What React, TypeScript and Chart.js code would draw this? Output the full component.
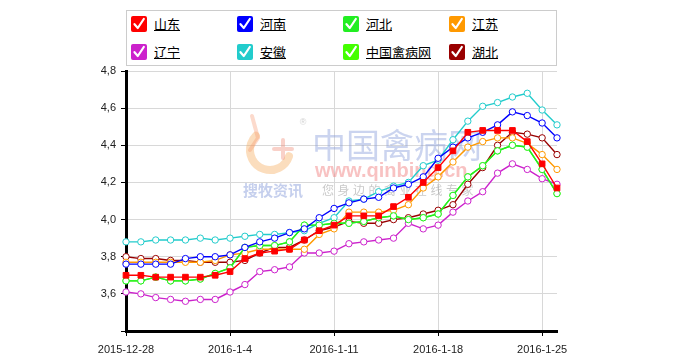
import React, { useEffect, useRef } from 'react';
import { Chart, registerables } from 'chart.js';

Chart.register(...registerables);

const dates = [
  '2015-12-28', '2015-12-29', '2015-12-30', '2015-12-31', '2016-1-1', '2016-1-2', '2016-1-3',
  '2016-1-4', '2016-1-5', '2016-1-6', '2016-1-7', '2016-1-8', '2016-1-9', '2016-1-10',
  '2016-1-11', '2016-1-12', '2016-1-13', '2016-1-14', '2016-1-15', '2016-1-16', '2016-1-17',
  '2016-1-18', '2016-1-19', '2016-1-20', '2016-1-21', '2016-1-22', '2016-1-23', '2016-1-24',
  '2016-1-25', '2016-1-26',
];
const xTickLabels = ['2015-12-28', '2016-1-4', '2016-1-11', '2016-1-18', '2016-1-25'];
const yTickValues = [3.6, 3.8, 4.0, 4.2, 4.4, 4.6, 4.8];

const shandong = [3.70, 3.70, 3.69, 3.69, 3.69, 3.69, 3.70, 3.72, 3.79, 3.82, 3.83, 3.84, 3.89, 3.94, 3.97, 4.02, 4.02, 4.02, 4.07, 4.12, 4.20, 4.28, 4.37, 4.47, 4.48, 4.48, 4.48, 4.42, 4.30, 4.17];
const henan = [3.76, 3.76, 3.76, 3.76, 3.79, 3.80, 3.80, 3.81, 3.85, 3.88, 3.90, 3.93, 3.95, 4.01, 4.06, 4.09, 4.11, 4.12, 4.17, 4.19, 4.23, 4.33, 4.39, 4.44, 4.47, 4.51, 4.58, 4.56, 4.52, 4.44];
const hebei = [3.67, 3.67, 3.69, 3.67, 3.67, 3.68, 3.71, 3.74, 3.85, 3.86, 3.86, 3.88, 3.97, 3.97, 3.98, 3.98, 3.99, 4.01, 4.02, 4.00, 4.01, 4.03, 4.13, 4.23, 4.29, 4.37, 4.40, 4.39, 4.27, 4.14];
const jiangsu = [3.77, 3.77, 3.77, 3.77, 3.77, 3.77, 3.78, 3.81, 3.82, 3.84, 3.84, 3.84, 3.84, 3.92, 3.95, 4.04, 4.04, 4.04, 4.05, 4.08, 4.17, 4.23, 4.31, 4.39, 4.42, 4.44, 4.44, 4.41, 4.35, 4.27];
const liaoning = [3.61, 3.60, 3.58, 3.57, 3.56, 3.57, 3.57, 3.61, 3.65, 3.72, 3.73, 3.745, 3.82, 3.82, 3.83, 3.87, 3.88, 3.89, 3.90, 3.98, 3.95, 3.97, 4.04, 4.10, 4.15, 4.25, 4.30, 4.27, 4.22, 4.19];
const anhui = [3.88, 3.88, 3.89, 3.89, 3.89, 3.90, 3.89, 3.90, 3.91, 3.92, 3.92, 3.93, 3.94, 3.98, 4.01, 4.10, 4.11, 4.15, 4.18, 4.20, 4.29, 4.32, 4.43, 4.53, 4.61, 4.63, 4.66, 4.68, 4.59, 4.51];
const qinbingwang = [3.67, 3.67, 3.69, 3.67, 3.67, 3.68, 3.71, 3.74, 3.85, 3.86, 3.86, 3.88, 3.97, 3.97, 3.98, 3.98, 3.99, 4.01, 4.02, 4.00, 4.01, 4.03, 4.13, 4.23, 4.29, 4.37, 4.40, 4.39, 4.27, 4.14];
const hubei = [3.80, 3.79, 3.79, 3.78, 3.78, 3.77, 3.77, 3.77, 3.78, 3.82, 3.85, 3.85, 3.89, 3.94, 3.96, 3.99, 3.98, 3.98, 4.00, 4.01, 4.03, 4.05, 4.08, 4.19, 4.28, 4.40, 4.47, 4.46, 4.44, 4.35];

const seriesNames = ['山东', '河南', '河北', '江苏', '辽宁', '安徽', '中国禽病网', '湖北'];
const seriesColors = ['#ff0000', '#0000ff', '#22ee22', '#ff9900', '#cc22cc', '#22cccc', '#44ff00', '#990000'];
const seriesData = [shandong, henan, hebei, jiangsu, liaoning, anhui, qinbingwang, hubei];

const watermarkPlugin = {
  id: 'watermark',
  beforeDatasetsDraw(chart: any) {
    const ctx = chart.ctx;
    ctx.save();
    ctx.strokeStyle = 'rgba(246,170,90,0.4)';
    ctx.lineWidth = 8;
    ctx.lineCap = 'round';
    ctx.beginPath();
    ctx.arc(270, 150, 20, 0.1 * Math.PI, 1.25 * Math.PI);
    ctx.stroke();
    ctx.strokeStyle = 'rgba(240,140,120,0.4)';
    ctx.lineWidth = 4;
    ctx.beginPath();
    ctx.moveTo(283, 140);
    ctx.lineTo(283, 158);
    ctx.moveTo(274, 149);
    ctx.lineTo(292, 149);
    ctx.stroke();
    ctx.strokeStyle = 'rgba(246,150,110,0.35)';
    ctx.lineWidth = 4;
    ctx.beginPath();
    ctx.moveTo(252, 116);
    ctx.lineTo(258, 138);
    ctx.lineTo(250, 150);
    ctx.stroke();
    ctx.fillStyle = 'rgba(150,150,150,0.45)';
    ctx.font = '9px "Liberation Sans"';
    ctx.textAlign = 'center';
    ctx.textBaseline = 'middle';
    ctx.fillText('®', 303, 123);

    ctx.textAlign = 'left';
    ctx.fillStyle = 'rgba(140,160,220,0.45)';
    ctx.font = '34px "Noto Sans CJK SC"';
    ctx.fillText('中国禽病网', 312, 145);
    ctx.fillStyle = 'rgba(240,120,120,0.45)';
    ctx.font = 'bold 20px "Liberation Sans"';
    ctx.fillText('www.qinbing.cn', 315, 171);
    ctx.fillStyle = 'rgba(120,120,120,0.4)';
    ctx.font = '12px "Noto Sans CJK SC"';
    const slogan = '您身边的禽业在线专家';
    for (let i = 0; i < slogan.length; i++) {
      ctx.fillText(slogan[i], 322 + i * 15.5, 190);
    }
    ctx.fillStyle = 'rgba(140,160,220,0.5)';
    ctx.font = 'bold 15px "Noto Sans CJK SC"';
    ctx.fillText('搜牧资讯', 243, 190);
    ctx.restore();
  },
};

function CheckBox({ color }: { color: string }) {
  return (
    <svg width="16" height="16" viewBox="0 0 16 16" style={{ display: 'block' }}>
      <rect x="0" y="0" width="16" height="16" rx="2" fill={color} />
      <path d="M3.5 8.2 L6.8 12 L12.8 3" stroke="#fff" strokeWidth="2.2" fill="none" strokeLinecap="round" strokeLinejoin="round" />
    </svg>
  );
}

export default function App() {
  const canvasRef = useRef<HTMLCanvasElement | null>(null);

  useEffect(() => {
    if (!canvasRef.current) return;
    const datasets = seriesNames.map((name, i) => {
      const isRect = i === 0;
      return {
        label: name,
        data: seriesData[i],
        borderColor: seriesColors[i],
        backgroundColor: seriesColors[i],
        pointBorderColor: seriesColors[i],
        pointBackgroundColor: isRect ? seriesColors[i] : '#ffffff',
        pointStyle: isRect ? 'rect' : 'circle',
        pointRadius: isRect ? 4.0 : 3.2,
        pointBorderWidth: 1,
        borderWidth: 1.4,
        tension: 0,
        fill: false,
        clip: false as any,
      };
    });

    const chart = new Chart(canvasRef.current, {
      type: 'line',
      data: { labels: dates, datasets },
      plugins: [watermarkPlugin],
      options: {
        responsive: false,
        animation: false,
        layout: { padding: { top: 71, right: 122, left: 0, bottom: 0 } },
        plugins: {
          legend: { display: false },
          tooltip: { enabled: false },
        },
        scales: {
          x: {
            type: 'category',
            offset: false,
            grid: {
              color: (c: any) => (xTickLabels.includes(dates[c.index]) ? '#d8d8d8' : 'rgba(0,0,0,0)'),
              tickColor: (c: any) => (xTickLabels.includes(dates[c.index]) ? '#000' : 'rgba(0,0,0,0)'),
              tickLength: 5,
              lineWidth: 1,
            },
            border: { display: true, color: '#000', width: 3 },
            ticks: {
              autoSkip: false,
              maxRotation: 0,
              padding: 7,
              color: '#222',
              font: { family: '"Liberation Sans", Arial, sans-serif', size: 11 },
              callback: (_v: any, i: number) => (xTickLabels.includes(dates[i]) ? dates[i] : ''),
            },
            afterFit: (s: any) => {
              s.height = 27;
            },
          },
          y: {
            min: 3.4,
            max: 4.8,
            grid: {
              color: '#d8d8d8',
              tickColor: '#000',
              tickLength: 5,
              lineWidth: 1,
            },
            border: { display: true, color: '#000', width: 3 },
            ticks: {
              stepSize: 0.2,
              padding: 5,
              color: '#222',
              font: { family: '"Liberation Sans", Arial, sans-serif', size: 11 },
              callback: (v: any) => {
                const n = Number(v);
                const hit = yTickValues.find((t) => Math.abs(t - n) < 1e-6);
                return hit === undefined ? '' : hit.toFixed(1).replace('.', ',');
              },
            },
            afterFit: (s: any) => {
              s.width = 126;
            },
          },
        },
      } as any,
    });
    return () => chart.destroy();
  }, []);

  return (
    <div style={{ position: 'fixed', left: 0, top: 0, width: 679, height: 358, background: '#fff', overflow: 'hidden' }}>
      <canvas ref={canvasRef} width={679} height={358} style={{ position: 'absolute', left: 0, top: 0 }} />
      <div
        style={{
          position: 'absolute',
          left: 126,
          top: 10,
          width: 429,
          height: 54,
          border: '1px solid #cccccc',
          background: '#fff',
        }}
      />
      {seriesNames.map((name, i) => (
        <div
          key={name}
          style={{
            position: 'absolute',
            left: 131 + (i % 4) * 106,
            top: 16 + Math.floor(i / 4) * 28,
            height: 16,
            display: 'flex',
            alignItems: 'center',
          }}
        >
          <CheckBox color={seriesColors[i]} />
          <span
            style={{
              marginLeft: 7,
              fontFamily: '"Noto Sans CJK SC", sans-serif',
              fontSize: 13,
              lineHeight: '16px',
              color: '#000',
              textDecoration: 'underline',
            }}
          >
            {name}
          </span>
        </div>
      ))}
    </div>
  );
}
